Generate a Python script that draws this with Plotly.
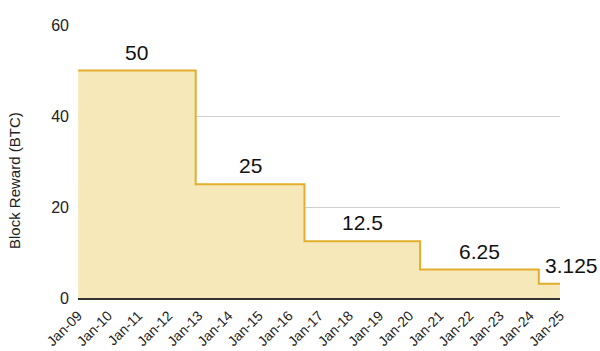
import plotly.graph_objects as go
import pandas as pd

# Data
halving_dates = ["2009-01-03", "2012-11-28", "2016-07-09", "2020-05-11", "2024-04-19", "2025-01-01"]
block_rewards = [50, 25, 12.5, 6.25, 3.125, 3.125]
reward_labels = ["50", "25", "12.5", "6.25", "3.125"]
tick_dates = [f"{y}-01-01" for y in range(2009, 2026)]
tick_labels = [f"Jan-{y % 100:02d}" for y in range(2009, 2026)]
y_ticks = [0, 20, 40, 60]

LINE = "#e2ae2c"
FILL = "rgba(246,232,184,1)"
FONT = "Liberation Sans, Arial, sans-serif"

fig = go.Figure()
fig.add_trace(go.Scatter(
    x=halving_dates, y=block_rewards, mode="lines",
    line=dict(shape="hv", color=LINE, width=2),
    fill="tozeroy", fillcolor=FILL, hoverinfo="skip", showlegend=False,
))

d = pd.to_datetime(halving_dates)
shifts = [0, 0, 0, 0, 22]
for i, lab in enumerate(reward_labels):
    mid = d[i] + (d[i + 1] - d[i]) / 2
    fig.add_annotation(
        x=mid, y=block_rewards[i], text=lab, showarrow=False,
        yanchor="bottom", xanchor="center", yshift=5, xshift=shifts[i],
        font=dict(family=FONT, size=21, color="#111"),
    )

# y-axis title
fig.add_annotation(
    xref="paper", yref="paper", x=-0.132, y=0.43,
    text="Block Reward (BTC)", textangle=-90, showarrow=False,
    xanchor="center", yanchor="middle",
    font=dict(family=FONT, size=15, color="#222"),
)

fig.update_layout(
    width=600, height=351,
    margin=dict(l=78, r=40, t=25, b=53),
    plot_bgcolor="white", paper_bgcolor="white",
    font=dict(family=FONT, color="#222"),
    xaxis=dict(
        type="date", range=["2009-01-01", "2025-01-01"],
        tickvals=tick_dates, ticktext=tick_labels, tickangle=-45,
        tickfont=dict(size=14, color="#222"), showgrid=False,
        showline=True, linecolor="#333", linewidth=2, ticks="",
        ticklabelstandoff=2,
        automargin=False,
    ),
    yaxis=dict(
        range=[0, 60], tickvals=y_ticks,
        tickfont=dict(size=16, color="#222"),
        gridcolor="#cfcfcf", gridwidth=1, zeroline=False,
        ticklabelstandoff=8,
        automargin=False,
    ),
)

fig.write_html("out.html")
